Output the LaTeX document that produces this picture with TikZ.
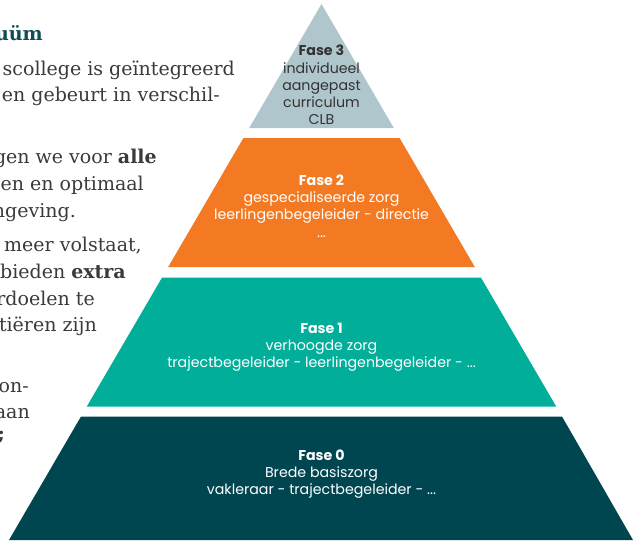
\documentclass[tikz,border=0pt]{standalone}
\usepackage{fontspec}
\setmainfont{DejaVu Serif}
\newfontfamily\pyrfont{Poppins}
\definecolor{cthree}{HTML}{AEC6CC}
\definecolor{ctwo}{HTML}{F37A23}
\definecolor{cone}{HTML}{00AE99}
\definecolor{czero}{HTML}{004650}
\definecolor{txtgray}{HTML}{3A3A3A}
\definecolor{headc}{HTML}{0F4C55}
\definecolor{fthree}{HTML}{333333}
\tikzset{
  lefttxt/.style={anchor=base east, inner sep=0pt, text=txtgray, font=\fontsize{19}{22}\selectfont},
  lefthead/.style={anchor=base east, inner sep=0pt, text=headc, font=\bfseries\fontsize{19}{22}\selectfont},
  pyrtxt/.style={align=center, inner sep=0pt, text=white, font=\pyrfont\fontsize{14.2}{17.2}\selectfont},
}
\begin{document}
\begin{tikzpicture}[x=1pt,y=-1pt]
\useasboundingbox (0,0) rectangle (637,541);
\clip (0,0) rectangle (637,541);
% pyramid layers
\fill[cthree] (321.5,4) -- (249.2,128) -- (393.8,128) -- cycle;
\fill[ctwo] (243.4,138) -- (399.6,138) -- (474.8,267) -- (168.2,267) -- cycle;
\fill[cone] (162.1,277.5) -- (480.9,277.5) -- (556.2,406.5) -- (86.8,406.5) -- cycle;
\fill[czero] (81,416.5) -- (562,416.5) -- (633,540) -- (9,540) -- cycle;
% pyramid texts
\node[pyrtxt, text=fthree] (t3) at (321.5,85) {\textbf{Fase 3}\\individueel\\aangepast\\curriculum\\CLB};
\node[pyrtxt] (t2) at (321.5,206) {\textbf{Fase 2}\\gespecialiseerde zorg\\leerlingenbegeleider - directie\\...};
\node[pyrtxt] (t1) at (321.5,347) {\textbf{Fase 1}\\verhoogde zorg\\trajectbegeleider - leerlingenbegeleider - ...};
\node[pyrtxt] (t0) at (321.5,474) {\textbf{Fase 0}\\Brede basiszorg\\vakleraar - trajectbegeleider - ...};
% left text (cropped)
\node[lefthead] (l1) at (43,40) {continuüm};
\node[lefttxt] (l2) at (235,75) {scollege is geïntegreerd};
\node[lefttxt] (l3) at (220,101.5) {n en gebeurt in verschil-};
\node[lefttxt] (l4) at (157,163) {gen we voor \textbf{alle}};
\node[lefttxt] (l5) at (144,190) {en en optimaal};
\node[lefttxt] (l6) at (76,217) {ngeving.};
\node[lefttxt] (l7) at (142,251) {n meer volstaat,};
\node[lefttxt] (l8) at (126,278) {bieden \textbf{extra}};
\node[lefttxt] (l9) at (95,305) {rdoelen te};
\node[lefttxt] (l10) at (97,331) {tiëren zijn};
\node[lefttxt] (l11) at (29,392) {on-};
\node[lefttxt] (l12) at (30,418) {aan};
\node[lefttxt, font=\bfseries\fontsize{19}{22}\selectfont] (l13) at (5,440) {;};
\end{tikzpicture}
\end{document}
